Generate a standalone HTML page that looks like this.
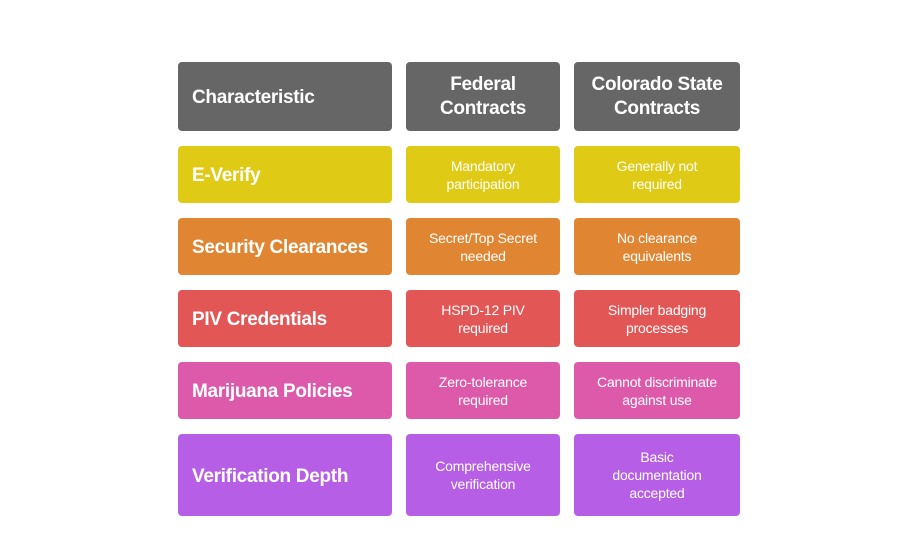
<!DOCTYPE html>
<html><head><style>
body{margin:0;width:918px;height:559px;background:#fff;position:relative;font-family:"Liberation Sans",sans-serif;overflow:hidden}
.b{position:absolute;border-radius:4px;color:#fff;display:flex;align-items:center;box-sizing:border-box}
.l{padding-left:14px;padding-top:3px;font-weight:bold;font-size:19px;letter-spacing:-0.3px}
.c{justify-content:center;text-align:center;font-size:14px;line-height:18px;letter-spacing:-0.2px}
.h{font-weight:bold;font-size:19px;line-height:24px;letter-spacing:-0.3px}
.g{background:#666666}.y{background:#dfcb15}.o{background:#e08531}.r{background:#e35656}.p{background:#dd5aaa}.v{background:#b65ee5}
</style></head><body>
<div class="b l g" style="left:178px;top:62px;width:214px;height:69px">Characteristic</div>
<div class="b c h g" style="left:406px;top:62px;width:154px;height:69px">Federal<br>Contracts</div>
<div class="b c h g" style="left:574px;top:62px;width:166px;height:69px">Colorado State<br>Contracts</div>

<div class="b l y" style="left:178px;top:146px;width:214px;height:57px">E-Verify</div>
<div class="b c y" style="left:406px;top:146px;width:154px;height:57px">Mandatory<br>participation</div>
<div class="b c y" style="left:574px;top:146px;width:166px;height:57px">Generally not<br>required</div>

<div class="b l o" style="left:178px;top:218px;width:214px;height:57px">Security Clearances</div>
<div class="b c o" style="left:406px;top:218px;width:154px;height:57px">Secret/Top Secret<br>needed</div>
<div class="b c o" style="left:574px;top:218px;width:166px;height:57px">No clearance<br>equivalents</div>

<div class="b l r" style="left:178px;top:290px;width:214px;height:57px">PIV Credentials</div>
<div class="b c r" style="left:406px;top:290px;width:154px;height:57px">HSPD-12 PIV<br>required</div>
<div class="b c r" style="left:574px;top:290px;width:166px;height:57px">Simpler badging<br>processes</div>

<div class="b l p" style="left:178px;top:362px;width:214px;height:57px">Marijuana Policies</div>
<div class="b c p" style="left:406px;top:362px;width:154px;height:57px">Zero-tolerance<br>required</div>
<div class="b c p" style="left:574px;top:362px;width:166px;height:57px">Cannot discriminate<br>against use</div>

<div class="b l v" style="left:178px;top:434px;width:214px;height:82px">Verification Depth</div>
<div class="b c v" style="left:406px;top:434px;width:154px;height:82px">Comprehensive<br>verification</div>
<div class="b c v" style="left:574px;top:434px;width:166px;height:82px">Basic<br>documentation<br>accepted</div>
</body></html>
